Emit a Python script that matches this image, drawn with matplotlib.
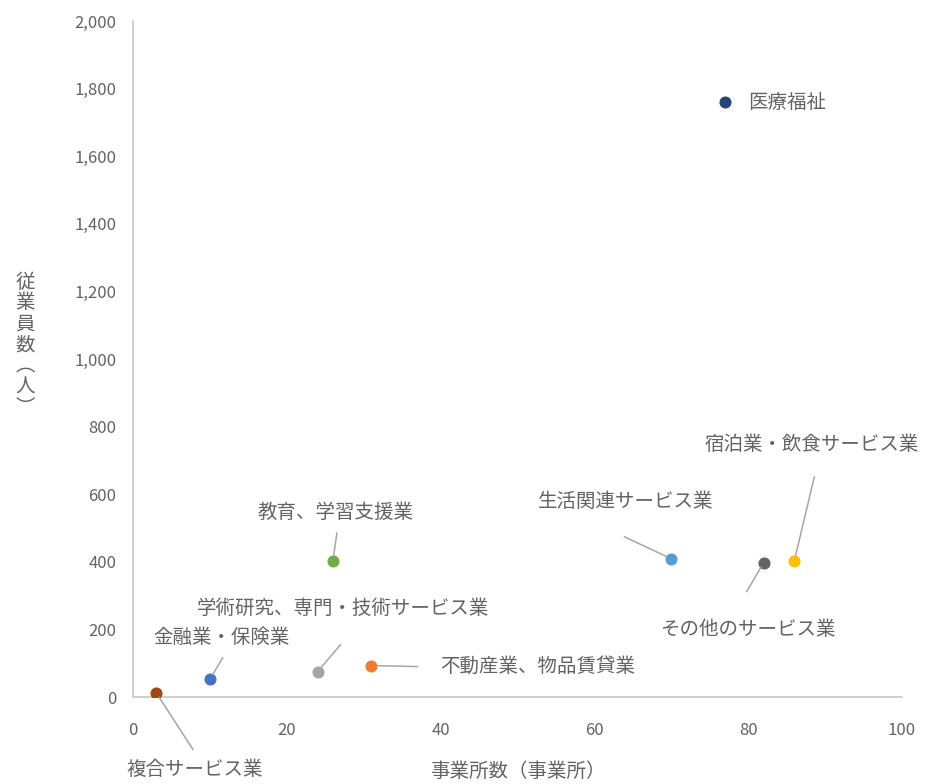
import matplotlib.pyplot as plt
from matplotlib.ticker import FuncFormatter, MultipleLocator

plt.rcParams['font.family'] = ['Noto Sans CJK JP', 'DejaVu Sans']

# 産業別 事業所数と従業員数
industries = [
    '金融業・保険業',
    '不動産業、物品賃貸業',
    '学術研究、専門・技術サービス業',
    '宿泊業・飲食サービス業',
    '生活関連サービス業',
    '教育、学習支援業',
    '医療福祉',
    '複合サービス業',
    'その他のサービス業',
]
establishments = [10, 31, 24, 86, 70, 26, 77, 3, 82]
employees = [52, 93, 75, 403, 409, 403, 1760, 13, 397]

colors = ['#4472C4', '#ED7D31', '#A5A5A5', '#FFC000', '#5B9BD5',
          '#70AD47', '#264478', '#9E480E', '#636363']

# ラベル位置（点からのピクセルオフセット）と引き出し線の始点
label_offset = {
    '金融業・保険業': (12, 42),
    '不動産業、物品賃貸業': (166, -1),
    '学術研究、専門・技術サービス業': (25, 63),
    '宿泊業・飲食サービス業': (17, 116),
    '生活関連サービス業': (-46, 57),
    '教育、学習支援業': (3, 48),
    '医療福祉': (62, 0),
    '複合サービス業': (39, -77),
    'その他のサービス業': (-16, -67),
}
leader_start = {
    '金融業・保険業': (13, 22),
    '不動産業、物品賃貸業': (46, -1),
    '学術研究、専門・技術サービス業': (23, 27),
    '宿泊業・飲食サービス業': (20, 84),
    '生活関連サービス業': (-47, 22),
    '教育、学習支援業': (4, 28),
    '複合サービス業': (37, -57),
    'その他のサービス業': (-17, -29),
}

text_color = '#636363'
fig = plt.figure(figsize=(9.27, 7.84), dpi=100)
ax = fig.add_axes([133 / 927, 87 / 784, 769 / 927, 676 / 784])

for name, x, y, c in zip(industries, establishments, employees, colors):
    ax.scatter(x, y, s=62, color=c, edgecolors=c, linewidths=0.8, zorder=3)
    if name in leader_start:
        ax.annotate('', xy=(x, y), xytext=leader_start[name],
                    textcoords='offset pixels',
                    arrowprops=dict(arrowstyle='-', color='#a6a6a6', lw=1.1,
                                    shrinkA=0, shrinkB=4))
    ax.annotate(name, xy=(x, y), xytext=label_offset[name],
                textcoords='offset pixels', ha='center', va='center',
                fontsize=14, color=text_color)

ax.set_xlim(0, 100)
ax.set_ylim(0, 2000)
ax.xaxis.set_major_locator(MultipleLocator(20))
ax.yaxis.set_major_locator(MultipleLocator(200))
ax.yaxis.set_major_formatter(FuncFormatter(lambda v, p: f'{int(v):,}'))

for side in ['top', 'right']:
    ax.spines[side].set_visible(False)
for side in ['left', 'bottom']:
    ax.spines[side].set_color('#cccccc')
    ax.spines[side].set_linewidth(1.3)

ax.tick_params(axis='both', length=0, labelsize=12, labelcolor=text_color)
ax.tick_params(axis='x', pad=18)
ax.tick_params(axis='y', pad=12)

ax.set_xlabel('事業所数（事業所）', fontsize=14, color=text_color, labelpad=16)
fig.text(25 / 927, 1 - 345 / 784, '従\n業\n員\n数\n︵\n人\n︶', ha='center',
         va='center', fontsize=14, color=text_color, linespacing=1.0)

plt.savefig('out.png', dpi=100)
plt.close()
